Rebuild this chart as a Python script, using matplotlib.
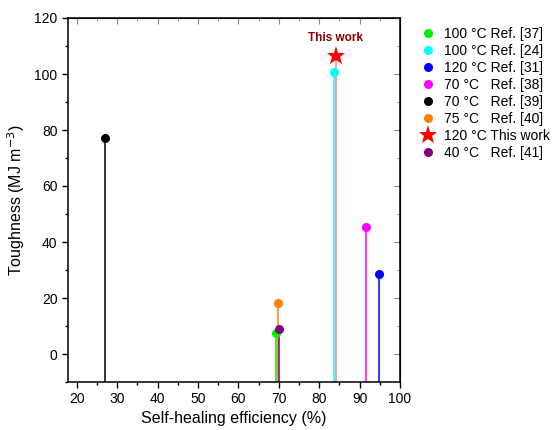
import matplotlib
matplotlib.use("Agg")
import matplotlib.pyplot as plt
from matplotlib.ticker import MultipleLocator

plt.rcParams['font.family'] = ['Liberation Sans', 'DejaVu Sans']

labels = ["100 °C Ref. [37]", "100 °C Ref. [24]", "120 °C Ref. [31]",
          "70 °C   Ref. [38]", "70 °C   Ref. [39]", "75 °C   Ref. [40]",
          "120 °C This work", "40 °C   Ref. [41]"]
efficiency = [69.4, 83.6, 94.9, 91.6, 26.9, 69.8, 84.2, 70.0]
toughness = [7.5, 100.7, 28.7, 45.4, 77.1, 18.1, 106.6, 9.0]
colors = ["#00ee00", "#00ffff", "#0000ff", "#ff00ff", "#000000", "#ff7f00", "#ff0000", "#800080"]
stem_colors = ["#00ee00", "#00ffff", "#0000ff", "#ff00ff", "#000000", "#ff7f00", "#ff7f7f", "#800080"]
markers = ["o", "o", "o", "o", "o", "o", "*", "o"]
sizes = [6.5, 6.5, 6.5, 6.5, 6.5, 6.5, 14, 6.5]

fig = plt.figure(figsize=(5.53, 4.30), dpi=100)
ax = fig.add_axes([68/553, 1-382/430, (400-68)/553, (382-18)/430])

ymin = -10
for x, y, c, sc, m, s, lab in zip(efficiency, toughness, colors, stem_colors, markers, sizes, labels):
    ax.vlines(x, ymin, y, color=sc, lw=1.1, zorder=2)
    ax.plot([x], [y], marker=m, color=c, markersize=s, linestyle='none',
            markeredgewidth=0, label=lab, zorder=3)

ax.text(84.1, 110.6, "This work", color="#8b0000", fontsize=8.5, fontweight='bold',
        ha='center', va='bottom')

ax.set_xlim(17.8, 100)
ax.set_ylim(-10, 120)
ax.xaxis.set_major_locator(MultipleLocator(10))
ax.xaxis.set_minor_locator(MultipleLocator(5))
ax.yaxis.set_major_locator(MultipleLocator(20))
ax.yaxis.set_minor_locator(MultipleLocator(10))
ax.tick_params(axis='both', which='major', direction='out', length=4, width=1, labelsize=10)
ax.tick_params(axis='both', which='minor', direction='out', length=2.5, width=1)

# mirror ticks inward on top/right
ax2 = ax.secondary_xaxis('top')
ax2.xaxis.set_major_locator(MultipleLocator(10))
ax2.xaxis.set_minor_locator(MultipleLocator(5))
ax2.tick_params(direction='in', which='major', length=4, labeltop=False, color='#888888')
ax2.tick_params(direction='in', which='minor', length=2.5, color='#888888')
ax2.set_xticklabels([])
ax3 = ax.secondary_yaxis('right')
ax3.yaxis.set_major_locator(MultipleLocator(20))
ax3.yaxis.set_minor_locator(MultipleLocator(10))
ax3.tick_params(direction='in', which='major', length=4, color='#888888')
ax3.tick_params(direction='in', which='minor', length=2.5, color='#888888')
ax3.set_yticklabels([])

for sp in ax.spines.values():
    sp.set_linewidth(1.1)

ax.set_xlabel("Self-healing efficiency (%)", fontsize=11.5, labelpad=3)
ax.set_ylabel("Toughness (MJ m$^{-3}$)", fontsize=11.5, labelpad=5)

leg = fig.legend(loc='upper left', bbox_to_anchor=(413/553, 1-21/430), frameon=False,
                 fontsize=10, handletextpad=0.4, labelspacing=0.22, handlelength=1.4,
                 borderaxespad=0)

fig.savefig("out.png", dpi=100)
